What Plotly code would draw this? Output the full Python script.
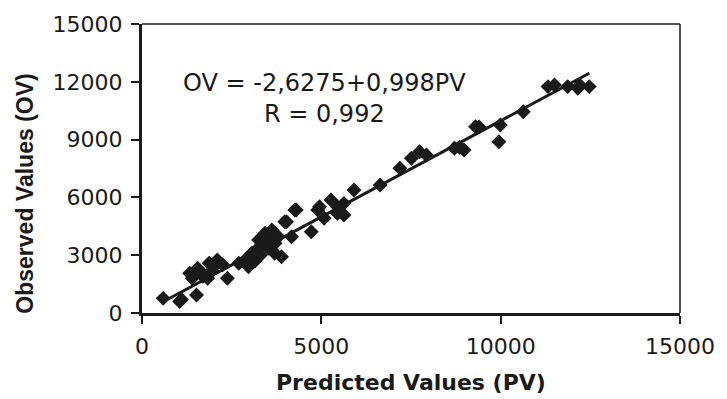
import plotly.graph_objects as go

predicted = [590, 1050, 1100, 1520, 1330, 1400, 1550, 1650, 1700, 1830, 1870, 1950, 2100, 2000,
             2380, 2250, 2700, 2880, 2970, 3060, 3000, 3150, 3250, 3200, 3300, 3430, 3520, 3400,
             3620, 3600, 3710, 3800, 3890, 3700, 3980, 4170, 4260, 4300, 4030, 4720, 4900, 4950,
             5080, 5270, 5450, 5450, 5630, 5630, 5910, 6640, 7190, 7510, 7740, 7930, 8710, 8980,
             8850, 9300, 9400, 9950, 9990, 10630, 11320, 11500, 11870, 12150, 12200, 12470]
observed = [760, 600, 700, 930, 2060, 1800, 2320, 2100, 1900, 1800, 2580, 2200, 2750, 2400,
            1800, 2500, 2580, 2750, 2400, 3100, 2900, 2700, 3790, 3300, 3000, 4140, 3360, 3600,
            4310, 3800, 3620, 3960, 2920, 3100, 4740, 3960, 5350, 5350, 4740, 4220, 5350, 5520,
            4920, 5870, 5170, 5520, 5690, 5090, 6380, 6640, 7510, 8030, 8370, 8200, 8550, 8460,
            8600, 9670, 9650, 8890, 9760, 10450, 11750, 11830, 11750, 11660, 11830, 11750]

intercept = -2.6275
slope = 0.998
r_value = "0,992"

x_ticks = [0, 5000, 10000, 15000]
y_ticks = [0, 3000, 6000, 9000, 12000, 15000]

ink = "#1a1a1a"

fig = go.Figure()
fig.add_trace(go.Scatter(
    x=predicted, y=observed, mode="markers",
    marker=dict(symbol="diamond", size=11.5, color=ink, line=dict(width=0)),
    showlegend=False, cliponaxis=False))

x0, x1 = min(predicted), max(predicted)
fig.add_trace(go.Scatter(
    x=[x0, x1], y=[intercept + slope * x0, intercept + slope * x1],
    mode="lines", line=dict(color=ink, width=3), showlegend=False))

axis_common = dict(
    showgrid=False, zeroline=False, showline=True, linecolor=ink, linewidth=3,
    ticks="outside", ticklen=8, tickwidth=2, tickcolor=ink,
    tickfont=dict(family="DejaVu Sans", size=22, color=ink),
)
fig.update_xaxes(range=[0, 15000], tickvals=x_ticks, ticktext=[str(v) for v in x_ticks],
                 ticklabelstandoff=4, **axis_common)
fig.update_yaxes(range=[0, 15000], tickvals=y_ticks, ticktext=[str(v) for v in y_ticks],
                 ticklabelstandoff=4, **axis_common)

# thin top & right frame
fig.add_shape(type="line", xref="paper", yref="paper", x0=0, x1=1, y0=1, y1=1,
              line=dict(color=ink, width=1.5))
fig.add_shape(type="line", xref="paper", yref="paper", x0=1, x1=1, y0=0, y1=1,
              line=dict(color=ink, width=1.5))

fig.add_annotation(
    x=5092, y=11159, xref="x", yref="y", xanchor="center", yanchor="middle",
    text="OV = -2,6275+0,998PV<br>R = " + r_value, showarrow=False, align="center",
    font=dict(family="DejaVu Sans", size=24, color=ink))

fig.add_annotation(
    x=0.5, y=-0.242, xref="paper", yref="paper", xanchor="center", yanchor="middle",
    text="<b>Predicted Values (PV)</b>", showarrow=False,
    font=dict(family="DejaVu Sans", size=22, color=ink))

fig.add_annotation(
    x=-0.218, y=0.412, xref="paper", yref="paper", xanchor="center", yanchor="middle",
    text="<b>Observed Values (OV)</b>", showarrow=False, textangle=-90,
    font=dict(family="Liberation Sans", size=23, color=ink))

fig.update_layout(
    width=727, height=399,
    margin=dict(l=142, r=40, t=24, b=86),
    paper_bgcolor="white", plot_bgcolor="white",
)

fig.write_html("out.html")
